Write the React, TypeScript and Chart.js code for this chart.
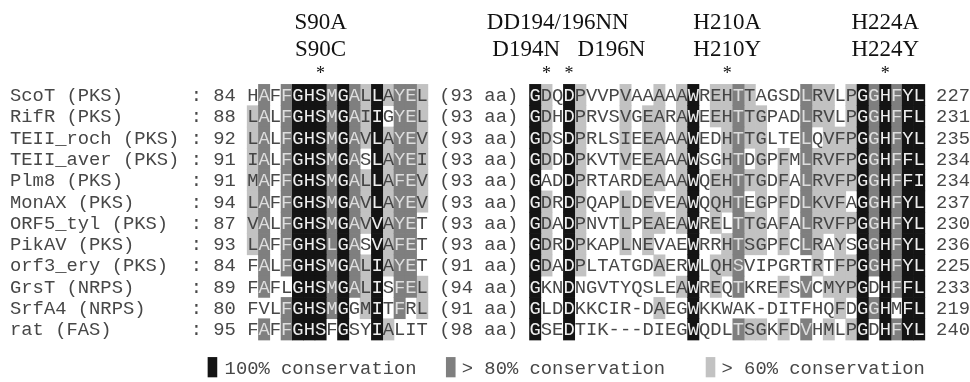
import React, { useEffect, useRef } from 'react';
import { Chart, registerables } from 'chart.js';

Chart.register(...registerables);

// ---------------- data ----------------
const sequenceNames = [
  'ScoT (PKS)', 'RifR (PKS)', 'TEII_roch (PKS)', 'TEII_aver (PKS)', 'Plm8 (PKS)', 'MonAX (PKS)',
  'ORF5_tyl (PKS)', 'PikAV (PKS)', 'orf3_ery (PKS)', 'GrsT (NRPS)', 'SrfA4 (NRPS)', 'rat (FAS)',
];
const startResidues = [84, 88, 92, 91, 91, 94, 87, 93, 84, 89, 80, 95];
const motifA = [
  'HAFFGHSMGALLAYEL', 'LALFGHSMGAIIGYEL', 'LALFGHSMGAVLAYEV', 'IALFGHSMGASLAYEI',
  'MAFFGHSMGALLAFEV', 'LAFFGHSMGAVLAYEV', 'VALFGHSMGAVVAYET', 'LAFFGHSLGASVAFET',
  'FALFGHSMGALIAYET', 'FAFLGHSMGALISFEL', 'FVLFGHSMGGMITFRL', 'FAFFGHSFGSYIALIT',
];
const gapLabels = [
  '(93 aa)', '(93 aa)', '(93 aa)', '(93 aa)', '(93 aa)', '(93 aa)',
  '(93 aa)', '(93 aa)', '(91 aa)', '(94 aa)', '(91 aa)', '(98 aa)',
];
const gapLengths = [93, 93, 93, 93, 93, 93, 93, 93, 91, 94, 91, 98];
const motifB = [
  'GDQDPVVPVAAAAAWREHTTAGSDLRVLPGGHFYL',
  'GDHDPRVSVGEARAWEEHTTGPADLRVLPGGHFFL',
  'GDSDPRLSIEEAAAWEDHTTGLTELQVFPGGHFYL',
  'GDDDPKVTVEEAAAWSGHTDGPFMLRVFPGGHFFL',
  'GADDPRTARDEAAAWQEHTTGDFALRVFPGGHFFI',
  'GDRDPQAPLDEVEAWQQHTEGPFDLKVFAGGHFYL',
  'GDADPNVTLPEAEAWRELTTGAFALRVFPGGHFYL',
  'GDRDPKAPLNEVAEWRRHTSGPFCLRAYSGGHFYL',
  'GDADPLTATGDAERWLQHSVIPGRTRTFPGGHFYL',
  'GKNDNGVTYQSLEAWREQTKREFSVCMYPGDHFFL',
  'GLDDKKCIR-DAEGWKKWAK-DITFHQFDGGHMFL',
  'GSEDTIK---DIEGWQDLTSGKFDVHMLPGDHFYL',
];
const endResidues = [227, 231, 235, 234, 234, 237, 230, 236, 225, 233, 219, 240];

// conservation shading per residue: b = 100%, d = >80%, l = >60%, . = none
const conservationA = [
  '.d.dbbbdbdlblddl', 'ld.dbbbdbdlb.ddl', 'ld.dbbbdbdlblddl', 'ld.dbbbdbd.blddl',
  'ld.dbbbdbdlblddl', 'ld.dbbbdbdlblddl', 'ld.dbbbdbdlbldd.', 'ld.dbbbdbd.bldd.',
  '.d.dbbbdbdlbldd.', '.d..bbbdbdlb.ddl', '...dbbbdb.lb.d.l', '.d.dbbb.b..bl...',
];
const conservationB = [
  'bl.bl...l..l.lb.lldl....dll.lbdbdbb',
  'bl.bl...l.ll.lb.lldll...dll.lbdbdbb',
  'bl.bl...l.ll.lb..ldll...d.lllbdbdbb',
  'bl.bl...l.ll.lb..ld.l.l.dllllbdbdbb',
  'b..bl.....ll.lb.lldll.l.dllllbdbdbb',
  'bl.bl...l.l..lb.lld.l.l.dlll.bdbdbb',
  'bl.bl...l.ll.lb.l.dll.l.dllllbdbdbb',
  'bl.bl...l.l...b..ldll.l.dl.l.bdbdbb',
  'bl.bl......l..b.lld......l.llbdbdbb',
  'b..b.........lb.l.d...l.d.lllb.bdbb',
  'b..b.......l..b............l.bdb.bb',
  'b..b..........b...dll.l.d.l.lb.bdbb',
];

// mutated residues (ScoT numbering) and their labels
const siteResidues = [90, 194, 196, 210, 224];
const mutationLine1 = ['S90A', 'DD194/196NN', 'H210A', 'H224A'];
const mutationLine1Sites = [90, 195, 210, 224];
const mutationLine2 = ['S90C', 'D194N', 'D196N', 'H210Y', 'H224Y'];
const mutationLine2Sites = [90, 194, 196, 210, 224];

const legendLabels = ['100% conservation', '> 80% conservation', '> 60% conservation'];
const legendLevels = ['b', 'd', 'l'];

// ---------------- layout / style ----------------
const LEVEL_FILL: Record<string, string> = { b: '#141414', d: '#7f7f7f', l: '#c2c2c2' };
const TEXT_ON: Record<string, string> = { b: '#eeeeee', d: '#dedede', l: '#444444', '.': '#474747' };
const X_SHIFT = 0.885; // left margin in character cells
const COL_COLON = 16;
const COL_START = 18;
const COL_A = 21;
const COL_GAP = 38;
const COL_B = 46;
const COL_END = 82;
const LEGEND_RECT_COLS = [17.5, 38.6, 61.6];
const LEGEND_TEXT_COLS = [19, 40, 63];

function siteColumn(res: number): number {
  const startB = startResidues[0] + motifA[0].length + gapLengths[0];
  if (res < startB) return COL_A + (res - startResidues[0]);
  return COL_B + (res - startB);
}

function cellsFor(level: string) {
  const pts: { x: number; y: [number, number] }[] = [];
  sequenceNames.forEach((_, r) => {
    conservationA[r].split('').forEach((c, i) => {
      if (c === level) pts.push({ x: COL_A + i + 0.5 + X_SHIFT, y: [r - 0.5, r + 0.5] });
    });
    conservationB[r].split('').forEach((c, i) => {
      if (c === level) pts.push({ x: COL_B + i + 0.5 + X_SHIFT, y: [r - 0.5, r + 0.5] });
    });
  });
  return pts;
}

const alignmentText = {
  id: 'alignmentText',
  afterDatasetsDraw(chart: any) {
    const { ctx } = chart;
    const xs = chart.scales.x;
    const ys = chart.scales.y;
    const cx = (col: number) => xs.getPixelForValue(col + X_SHIFT + 0.5);
    const cy = (row: number) => ys.getPixelForValue(row);
    const cw = cx(1) - cx(0);
    const rh = cy(1) - cy(0);
    const monoPx = cw / 0.6;
    ctx.save();
    ctx.textAlign = 'center';
    ctx.textBaseline = 'middle';
    ctx.font = `${monoPx.toFixed(2)}px "Liberation Mono", "DejaVu Sans Mono", monospace`;
    const run = (text: string, col: number, row: number, shades?: string) => {
      for (let i = 0; i < text.length; i++) {
        const s = shades ? shades[i] : '.';
        ctx.fillStyle = TEXT_ON[s];
        ctx.fillText(text[i], cx(col + i), cy(row) + 1);
      }
    };
    sequenceNames.forEach((name, r) => {
      run(name, 0, r);
      run(':', COL_COLON, r);
      run(String(startResidues[r]), COL_START, r);
      run(motifA[r], COL_A, r, conservationA[r]);
      run(gapLabels[r], COL_GAP, r);
      run(motifB[r], COL_B, r, conservationB[r]);
      run(String(endResidues[r]), COL_END, r);
    });

    // legend
    legendLabels.forEach((label, i) => {
      const x0 = xs.getPixelForValue(LEGEND_RECT_COLS[i] + X_SHIFT);
      const y0 = cy(12.3);
      ctx.fillStyle = LEVEL_FILL[legendLevels[i]];
      ctx.fillRect(x0, y0, cw * 0.85, rh * 0.95);
      run(label, LEGEND_TEXT_COLS[i], 12.82);
    });

    // mutation labels
    ctx.fillStyle = '#111';
    ctx.textBaseline = 'alphabetic';
    ctx.font = '23px "Liberation Serif", "DejaVu Serif", serif';
    mutationLine1.forEach((t, i) => {
      ctx.textAlign = 'center';
      ctx.fillText(t, cx(siteColumn(mutationLine1Sites[i])), cy(-3.1));
    });
    mutationLine2.forEach((t, i) => {
      const site = mutationLine2Sites[i];
      const col = siteColumn(site);
      if (t === 'D194N') {
        ctx.textAlign = 'right';
        ctx.fillText(t, cx(col) + cw * 1.2, cy(-1.83));
      } else if (t === 'D196N') {
        ctx.textAlign = 'left';
        ctx.fillText(t, cx(col) + cw * 0.75, cy(-1.83));
      } else {
        ctx.textAlign = 'center';
        ctx.fillText(t, cx(col), cy(-1.83));
      }
    });
    ctx.textAlign = 'center';
    ctx.font = '18px "Liberation Serif", "DejaVu Serif", serif';
    siteResidues.forEach((s) => {
      ctx.fillText('*', cx(siteColumn(s)), cy(-0.77));
    });
    ctx.restore();
  },
};

export default function App() {
  const ref = useRef<HTMLCanvasElement>(null);
  useEffect(() => {
    if (!ref.current) return;
    const chart = new Chart(ref.current, {
      type: 'bar',
      data: {
        datasets: legendLevels.map((lvl) => ({
          label: lvl,
          data: cellsFor(lvl) as any,
          backgroundColor: LEVEL_FILL[lvl],
          borderWidth: 0,
          grouped: false,
          barPercentage: 1,
          categoryPercentage: 1,
        })),
      },
      options: {
        animation: false,
        responsive: true,
        maintainAspectRatio: false,
        events: [],
        layout: { padding: 0 },
        plugins: { legend: { display: false }, tooltip: { enabled: false } },
        scales: {
          x: {
            type: 'linear',
            display: false,
            offset: false,
            min: 0,
            max: 85 + X_SHIFT,
            ticks: { stepSize: 1000 },
            grid: { display: false },
          },
          y: {
            type: 'linear',
            display: false,
            reverse: true,
            min: -4.46,
            max: 13.47,
            ticks: { stepSize: 1000 },
            grid: { display: false },
          },
        },
      },
      plugins: [alignmentText],
    } as any);
    return () => chart.destroy();
  }, []);
  return (
    <div style={{ position: 'absolute', left: 0, top: 0, width: 970, height: 382, background: '#fff' }}>
      <canvas ref={ref} />
    </div>
  );
}
